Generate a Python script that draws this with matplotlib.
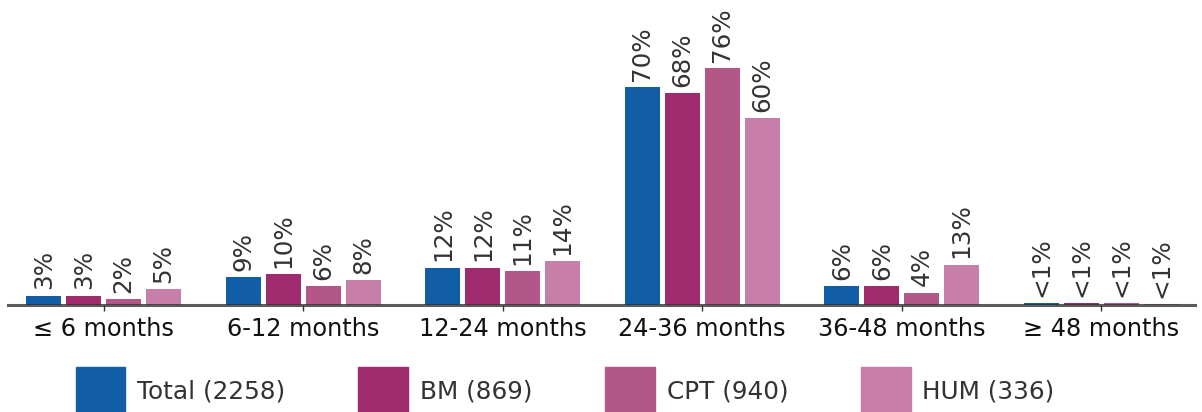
import matplotlib
matplotlib.use("Agg")
import matplotlib.pyplot as plt
import numpy as np

categories = ["≤ 6 months", "6-12 months", "12-24 months", "24-36 months", "36-48 months", "≥ 48 months"]
series_names = ["Total (2258)", "BM (869)", "CPT (940)", "HUM (336)"]
total = [3, 9, 12, 70, 6, 0.5]
bm = [3, 10, 12, 68, 6, 0.5]
cpt = [2, 6, 11, 76, 4, 0.5]
hum = [5, 8, 14, 60, 13, 0.3]
labels = [
    ["3%", "9%", "12%", "70%", "6%", "<1%"],
    ["3%", "10%", "12%", "68%", "6%", "<1%"],
    ["2%", "6%", "11%", "76%", "4%", "<1%"],
    ["5%", "8%", "14%", "60%", "13%", "<1%"],
]
colors = ["#125EA6", "#A02B6E", "#B35789", "#C77FA9"]

series = [total, bm, cpt, hum]

fig = plt.figure(figsize=(12.02, 4.12), dpi=100)
ax = fig.add_axes([8 / 1202, 1 - 305 / 412, 1187 / 1202, 305 / 412])

x = np.arange(len(categories))
step = 0.2
width = 0.176
for i, (vals, col, labs) in enumerate(zip(series, colors, labels)):
    pos = x + (i - 1.5) * step
    bars = ax.bar(pos, vals, width=width, color=col, zorder=2)
    for b, lab in zip(bars, labs):
        ax.annotate(lab, (b.get_x() + b.get_width() / 2, b.get_height()),
                    xytext=(0, 4.5), textcoords="offset points",
                    rotation=90, ha="center", va="bottom",
                    fontsize=17.7, color="#333333")

ax.set_xlim(-0.48, 5.47)
ax.set_ylim(0, 98)
ax.set_xticks(x)
ax.set_xticklabels(categories, fontsize=17.3, color="#111111")
ax.set_yticks([])
for s in ["top", "right", "left"]:
    ax.spines[s].set_visible(False)
ax.spines["bottom"].set_color("#333333")
ax.spines["bottom"].set_linewidth(2.2)
ax.spines["bottom"].set_zorder(3)
ax.spines["bottom"].set_alpha(0.8)
ax.tick_params(axis="x", length=4, width=1, color="#333333", pad=5)
ax.patch.set_visible(False)

handles = [plt.Rectangle((0, 0), 1, 1, color=c) for c in colors]
fig.legend(handles, series_names, loc="lower left", bbox_to_anchor=(76 / 1202, -0.004),
           ncol=4, frameon=False, fontsize=17.8, handlelength=2.0, handleheight=2.5,
           handletextpad=0.48, columnspacing=2.95, labelcolor="#333333",
           borderaxespad=0, borderpad=0)

fig.savefig("out.png", dpi=100)
